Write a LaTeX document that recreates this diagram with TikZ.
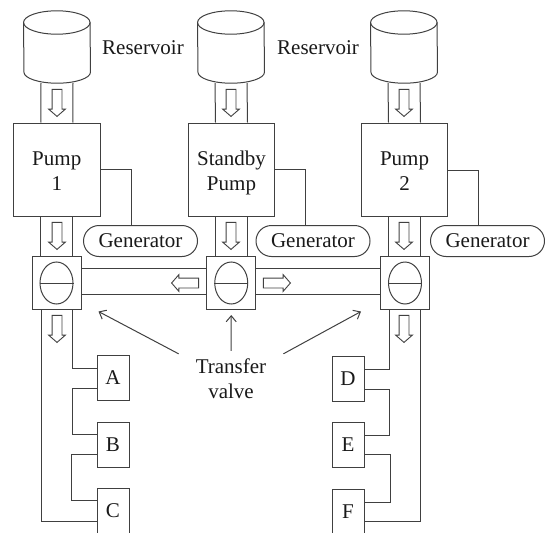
\documentclass[tikz,border=0pt]{standalone}
\usepackage{fontspec}
\setmainfont{Liberation Serif}
\usetikzlibrary{shapes.geometric,shapes.misc,shapes.arrows,arrows.meta}
\tikzset{
x=1pt,
y=-1pt,
every node/.style=
    {inner sep=0pt,
    align=center,
    text=black!90,
    font=\fontsize{21}{25}\selectfont
    },
line/.style=
    {draw=black!75,
    line width=1pt
    },
tank/.style=
    {rectangle,
    minimum width=66.5pt,
    minimum height=72pt
    },
pumpbox/.style=
    {line,
    rectangle,
    text height=47.4pt,
    text depth=5pt,
    minimum width=86.5pt,
    minimum height=93pt
    },
genbox/.style=
    {line,
    rounded rectangle,
    minimum width=114pt,
    minimum height=31pt
    },
valvebox/.style=
    {line,
    rectangle,
    minimum width=49pt,
    minimum height=53.5pt
    },
disc/.style=
    {line,
    ellipse,
    minimum width=33pt,
    minimum height=42pt
    },
loadbox/.style=
    {line,
    rectangle,
    minimum width=32pt,
    minimum height=45pt
    },
flow/.style=
    {line,
    line width=0.9pt,
    inner sep=4.5pt,
    single arrow,
    single arrow head extend=3.5pt,
    single arrow tip angle=98,
    minimum height=27pt
    },
pointer/.style=
    {line,
    -{Straight Barb[length=6pt,width=10pt]}
    }}
\newcommand{\tankoutline}[1]{
\draw[line] ([yshift=-11.7pt]#1.north west) arc[start angle=180,end angle=0,x radius=33.25pt,y radius=11.7pt]
 -- ([yshift=11pt]#1.south east) arc[start angle=0,end angle=-180,x radius=33.25pt,y radius=11pt] -- cycle;
\draw[line] ([yshift=-11.7pt]#1.north west) arc[start angle=180,end angle=360,x radius=33.25pt,y radius=11.7pt];
}

\begin{document}
\begin{tikzpicture}
\useasboundingbox[clip] (0,0) rectangle (545,532);

\node[tank] (tank1) at (57,47) {};
\node[tank] (tank2) at (231,47) {};
\node[tank] (tank3) at (404,47) {};
\tankoutline{tank1}
\tankoutline{tank2}
\tankoutline{tank3}
\node (res1) at (143,48) {Reservoir};
\node (res2) at (318,48) {Reservoir};

\node[pumpbox] (pump1) at (56.75,169.5) {Pump\\1};
\node[pumpbox] (pump2) at (231.5,169.5) {Standby\\Pump};
\node[pumpbox] (pump3) at (404.5,169.5) {Pump\\2};

\node[genbox] (gen1) at (140.5,241) {Generator};
\node[genbox] (gen2) at (313,241) {Generator};
\node[genbox] (gen3) at (487.5,241) {Generator};

\node[valvebox] (valve1) at (56.5,282.75) {};
\node[valvebox] (valve2) at (231.25,282.75) {};
\node[valvebox] (valve3) at (405,282.75) {};
\node[disc] (disc1) at (56.5,283) {};
\node[disc] (disc2) at (231.25,283) {};
\node[disc] (disc3) at (405,283) {};
\draw[line] (disc1.west) -- (disc1.east);
\draw[line] (disc2.west) -- (disc2.east);
\draw[line] (disc3.west) -- (disc3.east);

\node[loadbox] (loadA) at (113,378) {A};
\node[loadbox] (loadB) at (113,444.5) {B};
\node[loadbox] (loadC) at (113,510.5) {C};
\node[loadbox] (loadD) at (348,378.5) {D};
\node[loadbox] (loadE) at (348,445) {E};
\node[loadbox] (loadF) at (348,511.5) {F};

\node (transfer) at (231,379) {Transfer\\valve};

\draw[line] ([xshift=-16pt]tank1.south) -- ([xshift=-16pt]pump1.north);
\draw[line] ([xshift=16pt]tank1.south) -- ([xshift=16pt]pump1.north);
\draw[line] ([xshift=-16pt]tank2.south) -- ([xshift=-16pt]pump2.north);
\draw[line] ([xshift=16pt]tank2.south) -- ([xshift=16pt]pump2.north);
\draw[line] ([xshift=-16pt]tank3.south) -- ([xshift=-16pt]pump3.north);
\draw[line] ([xshift=16pt]tank3.south) -- ([xshift=16pt]pump3.north);

\draw[line] ([xshift=-16pt]pump1.south) -- ([xshift=-16pt]pump1.south |- valve1.north);
\draw[line] ([xshift=16pt]pump1.south) -- ([xshift=16pt]pump1.south |- valve1.north);
\draw[line] ([xshift=-16pt]pump2.south) -- ([xshift=-16pt]pump2.south |- valve2.north);
\draw[line] ([xshift=16pt]pump2.south) -- ([xshift=16pt]pump2.south |- valve2.north);
\draw[line] ([xshift=-16pt]pump3.south) -- ([xshift=-16pt]pump3.south |- valve3.north);
\draw[line] ([xshift=16pt]pump3.south) -- ([xshift=16pt]pump3.south |- valve3.north);

\draw[line] (pump1.east) -| ([xshift=-9.5pt]gen1.north);
\draw[line] (pump2.east) -| ([xshift=-8pt]gen2.north);
\draw[line] ([yshift=-0.5pt]pump3.east) -| ([xshift=-9.5pt]gen3.north);

\draw[line] ([yshift=14pt]valve1.east) -- ([yshift=14pt]valve2.west);
\draw[line] ([yshift=-12pt]valve1.east) -- ([yshift=-12pt]valve2.west);
\draw[line] ([yshift=14pt]valve2.east) -- ([yshift=14pt]valve3.west);
\draw[line] ([yshift=-12pt]valve2.east) -- ([yshift=-12pt]valve3.west);

\draw[line] ([xshift=15.5pt]valve1.south) |- ([yshift=10pt]loadA.west);
\draw[line] ([yshift=-10pt]loadA.west) -- ++(-24,0) |- ([yshift=10pt]loadB.west);
\draw[line] ([yshift=-10pt]loadB.west) -- ++(-25,0) |- ([yshift=10pt]loadC.west);
\draw[line] ([xshift=-15pt]valve1.south) |- ([yshift=-10.5pt]loadC.west);

\draw[line] ([xshift=-15.5pt]valve3.south) |- ([yshift=9.5pt]loadD.east);
\draw[line] ([yshift=-10.5pt]loadD.east) -- ++(25,0) |- ([yshift=9.5pt]loadE.east);
\draw[line] ([yshift=-9.5pt]loadE.east) -- ++(26,0) |- ([yshift=9.5pt]loadF.east);
\draw[line] ([xshift=15pt]valve3.south) |- ([yshift=-10pt]loadF.east);

\node[flow,shape border rotate=270,anchor=tip] (flow1) at (57,117) {};
\node[flow,shape border rotate=270,anchor=tip] (flow2) at (57,250) {};
\node[flow,shape border rotate=270,anchor=tip] (flow3) at (57,343) {};
\node[flow,shape border rotate=270,anchor=tip] (flow4) at (231,117) {};
\node[flow,shape border rotate=270,anchor=tip] (flow5) at (231,250) {};
\node[flow,shape border rotate=270,anchor=tip] (flow6) at (404,117) {};
\node[flow,shape border rotate=270,anchor=tip] (flow7) at (404,250) {};
\node[flow,shape border rotate=270,anchor=tip] (flow8) at (404,343) {};
\node[flow,shape border rotate=180,anchor=tip] (flow9) at (171,283) {};
\node[flow,shape border rotate=0,anchor=tip] (flow10) at (291,283) {};

\draw[pointer] ([xshift=-17pt,yshift=5pt]transfer.north west) -- ([xshift=17pt,yshift=-1.5pt]valve1.south east);
\draw[pointer] ([yshift=8pt]transfer.north) -- ([yshift=-5pt]valve2.south);
\draw[pointer] ([xshift=17pt,yshift=5pt]transfer.north east) -- ([xshift=-19pt,yshift=-1.5pt]valve3.south west);
\end{tikzpicture}
\end{document}
